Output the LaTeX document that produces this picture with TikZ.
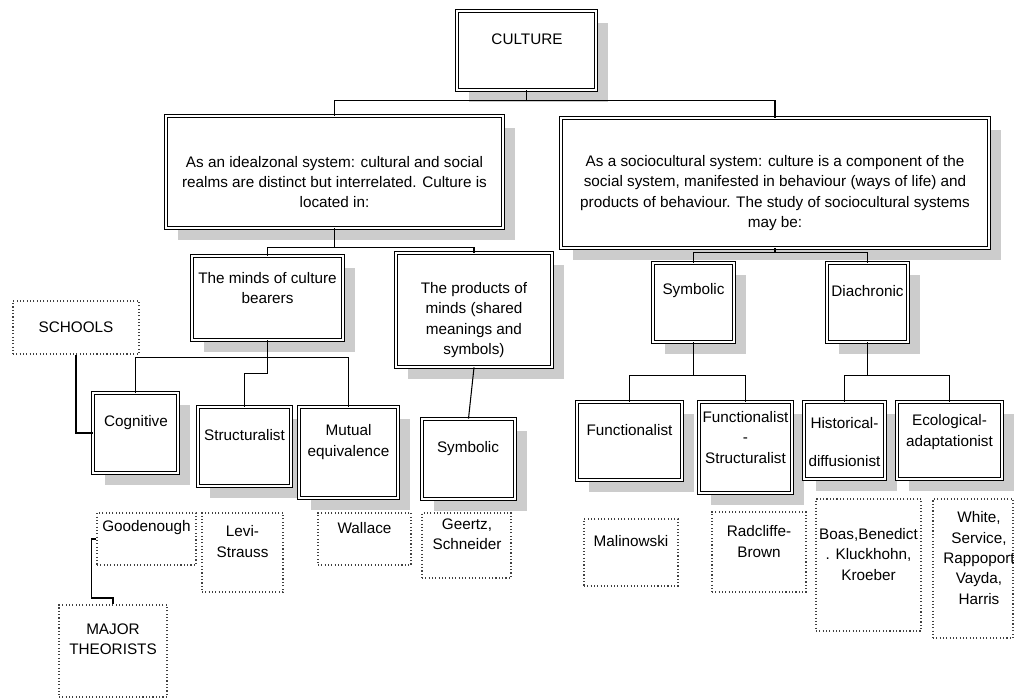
\documentclass[tikz,border=0pt]{standalone}
\usepackage{fontspec}
\setmainfont{Liberation Sans}
\usetikzlibrary{fit,shadows}

\begin{document}
\begin{tikzpicture}[x=0.02cm,y=-0.02cm,
    box/.style={draw,double,double distance=1pt,line width=0.5pt,fill=white,inner sep=0pt,
      drop shadow={shadow xshift=0.24cm,shadow yshift=-0.24cm,fill=black!20,opacity=1}},
    dotbox/.style={draw=black!75,line width=0.6pt,dash pattern=on 0.6pt off 1.3pt,inner sep=0pt},
    txt/.style={align=center,inner sep=0pt,font=\fontsize{8.7}{11.6}\selectfont},
    link/.style={line width=0.6pt}]
      \useasboundingbox (0,0) rectangle (1014,698) ;
      % top levels
      \node[box,fit={(457,11) (596,90)}] (culture) {} ;
      \node[txt] (cultureT) at (527,39) {CULTURE} ;
      \node[box,fit={(166,116) (503,228)}] (ideal) {} ;
      \node[txt] (idealT) at (334.5,182) {As an idealzonal system: cultural and social\\realms are distinct but interrelated. Culture is\\located in:} ;
      \node[box,fit={(561,118) (989,248)}] (socio) {} ;
      \node[txt] (socioT) at (775,193) {As a sociocultural system: culture is a component of the\\social system, manifested in behaviour (ways of life) and\\products of behaviour. The study of sociocultural systems\\may be:} ;
      \node[box,fit={(192,256) (343,340)}] (minds) {} ;
      \node[txt] (mindsT) at (267.5,288) {The minds of culture\\bearers} ;
      \node[box,fit={(396,253) (552,367)}] (products) {} ;
      \node[txt] (productsT) at (474,320) {The products of\\minds (shared\\meanings and\\symbols)} ;
      \node[box,fit={(653,263) (734,342)}] (symR) {} ;
      \node[txt] (symRT) at (693.5,291) {Symbolic} ;
      \node[box,fit={(827,263) (908,342)}] (diach) {} ;
      \node[txt] (diachT) at (867.5,291) {Diachronic} ;
      % schools
      \node[box,fit={(93,393) (178,473)}] (cog) {} ;
      \node[txt] (cogT) at (136,423) {Cognitive} ;
      \node[box,fit={(198,407) (291,486)}] (struct) {} ;
      \node[txt] (structT) at (244.5,435) {Structuralist} ;
      \node[box,fit={(299,407) (398,498)}] (mutual) {} ;
      \node[txt] (mutualT) at (348.5,442) {Mutual\\equivalence} ;
      \node[box,fit={(422,419) (515,499)}] (symL) {} ;
      \node[txt] (symLT) at (468,449) {Symbolic} ;
      \node[box,fit={(577,402) (682,480)}] (func) {} ;
      \node[txt] (funcT) at (629.5,430) {Functionalist} ;
      \node[box,fit={(699,402) (792,493)}] (funcstr) {} ;
      \node[txt] (funcstrT) at (745.5,437.5) {Functionalist\\-\\Structuralist} ;
      \node[box,fit={(804,402) (885,479)}] (hist) {} ;
      \node[txt] (histT) at (844.5,442) {Historical-\\[10.5pt]diffusionist} ;
      \node[box,fit={(897,402) (1002,479)}] (eco) {} ;
      \node[txt] (ecoT) at (949.5,432) {Ecological-\\adaptationist} ;
      % theorists
      \node[dotbox,fit={(13,301) (139,354)}] (schools) {} ;
      \node[txt] (schoolsT) at (76,327) {SCHOOLS} ;
      \node[dotbox,fit={(59,605) (167,697)}] (major) {} ;
      \node[txt] (majorT) at (113,639.5) {MAJOR\\THEORISTS} ;
      \node[dotbox,fit={(97,513) (196,565)}] (goode) {} ;
      \node[txt] (goodeT) at (146.5,528) {Goodenough} ;
      \node[dotbox,fit={(202,513) (283,592)}] (levi) {} ;
      \node[txt] (leviT) at (242.5,541.5) {Levi-\\Strauss} ;
      \node[dotbox,fit={(318,513) (411,565)}] (wallace) {} ;
      \node[txt] (wallaceT) at (364.5,528) {Wallace} ;
      \node[dotbox,fit={(422,513) (511,578)}] (geertz) {} ;
      \node[txt] (geertzT) at (467,534.5) {Geertz,\\Schneider} ;
      \node[dotbox,fit={(584,519) (678,586)}] (malin) {} ;
      \node[txt] (malinT) at (631,541) {Malinowski} ;
      \node[dotbox,fit={(712,512) (806,592)}] (radcl) {} ;
      \node[txt] (radclT) at (759,541.5) {Radcliffe-\\Brown} ;
      \node[dotbox,fit={(816,499) (921,631)}] (boas) {} ;
      \node[txt] (boasT) at (868.5,554.5) {Boas,Benedict\\. Kluckhohn,\\Kroeber} ;
      \node[dotbox,fit={(933,499) (1013,638)}] (white) {} ;
      \node[txt] (whiteT) at (979,558) {White,\\Service,\\Rappoport\\Vayda,\\Harris} ;
      % connectors
      \draw[link] (culture.south) -- ++(0,10) -| (ideal.north) ;
      \draw[link] (culture.south) ++(0,10) -| (socio.north) ;
      \draw[link] (ideal.south) -- ++(0,19) -| (minds.north) ;
      \draw[link] (ideal.south) ++(0,19) -| (products.north) ;
      \draw[link] (socio.south) -- ++(0,4) -| (symR.north) ;
      \draw[link] (socio.south) ++(0,4) -| (diach.north) ;
      \draw[link] (minds.south) -- ++(0,17) -| (cog.north) ;
      \draw[link] (minds.south) ++(0,17) -| (mutual.north) ;
      \draw[link] (minds.south) -- ++(0,33) -| (struct.north) ;
      \draw[link] (products.south) -- (symL.north) ;
      \draw[link] (symR.south) -- ++(0,33) -| (func.north) ;
      \draw[link] (symR.south) ++(0,33) -| (funcstr.north) ;
      \draw[link] (diach.south) -- ++(0,33) -| (hist.north) ;
      \draw[link] (diach.south) ++(0,33) -| (eco.north) ;
      \draw[link] (schools.south) |- (cog.west) ;
      \draw[link] (goode.west) -- ++(-5,0) -- ++(0,59) -| (major.north) ;
    \end{tikzpicture}
\end{document}
